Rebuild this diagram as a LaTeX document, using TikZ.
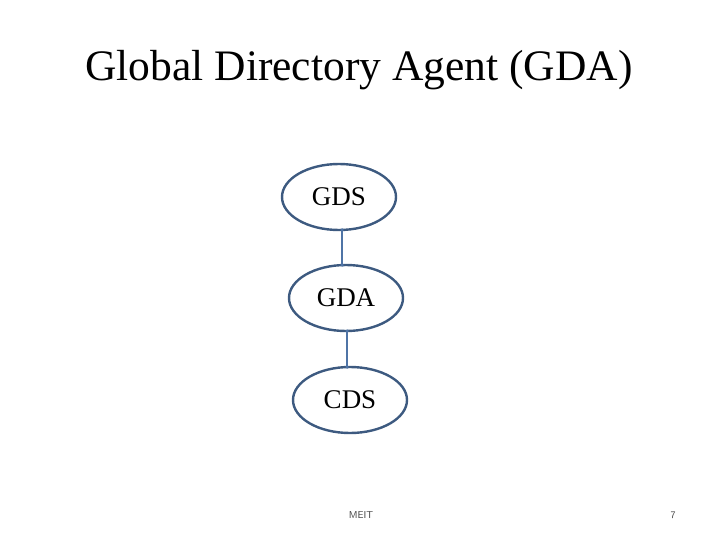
\documentclass[tikz,border=0pt]{standalone}
\usepackage{fontspec}
\setmainfont{Liberation Serif}
\usetikzlibrary{shapes.geometric}
\definecolor{edge}{HTML}{3D5A80}
\definecolor{conncol}{HTML}{4F74A6}
\begin{document}
\begin{tikzpicture}[x=1pt,y=-1pt,
  ell/.style={ellipse,draw=edge,line width=2.4pt,minimum width=114pt,minimum height=66pt,inner sep=0pt,font=\fontsize{27}{30}\selectfont},
  conn/.style={draw=conncol,line width=1.3pt},
  dotc/.style={circle,fill=conncol,inner sep=0pt,minimum size=3.5pt}]
\useasboundingbox (0,0) rectangle (720,540);
\node (title) at (359,70) {\fontsize{43.5}{48}\selectfont Global Directory Agent (GDA)};
\node[ell] (gds) at (339,197) {GDS};
\node[ell] (gda) at (346,298) {GDA};
\node[ell] (cds) at (350,400) {CDS};
\coordinate (a1) at (342,230); \coordinate (a2) at (342,265);
\coordinate (b1) at (347,331); \coordinate (b2) at (347,367);
\draw[conn] (a1) -- (a2);
\draw[conn] (b1) -- (b2);
\node[dotc] at (a1) {}; \node[dotc] at (a2) {};
\node[dotc] at (b1) {}; \node[dotc] at (b2) {};
\node[font=\sffamily\fontsize{10}{12}\selectfont,text=black!75] (meit) at (361,515) {MEIT};
\node[font=\sffamily\fontsize{10}{12}\selectfont,text=black!75] (pg) at (673,515) {7};
\end{tikzpicture}
\end{document}
